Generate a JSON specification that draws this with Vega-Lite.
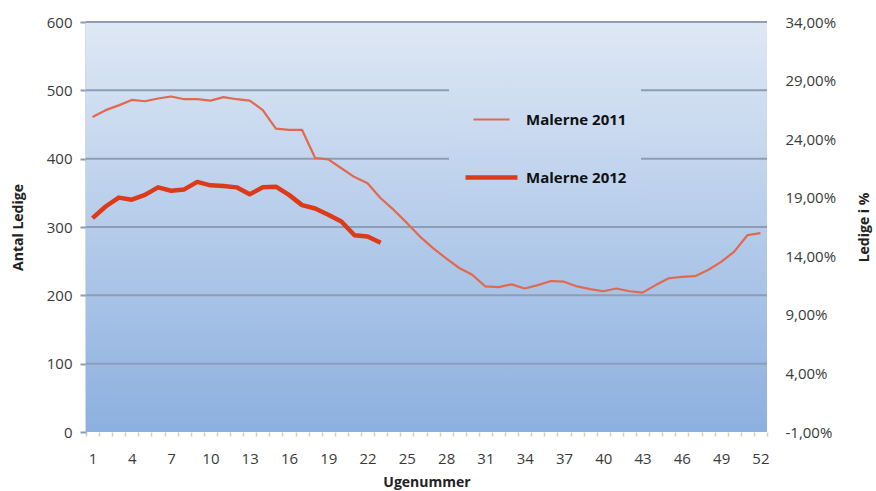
{
  "$schema": "https://vega.github.io/schema/vega-lite/v6.json",
  "width": 681,
  "height": 410,
  "autosize": {"type": "none"},
  "padding": {"left": 86, "top": 22, "right": 109, "bottom": 59},
  "background": "white",
  "config": {
    "view": {"stroke": null},
    "font": "Open Sans",
    "axis": {"labelFont": "Open Sans", "titleFont": "Open Sans", "labelColor": "#3a3a3a", "titleColor": "#222222"}
  },
  "datasets": {
    "weeks": [
      {"week": 1, "series": "Malerne 2011", "value": 461},
      {"week": 2, "series": "Malerne 2011", "value": 471},
      {"week": 3, "series": "Malerne 2011", "value": 478},
      {"week": 4, "series": "Malerne 2011", "value": 486},
      {"week": 5, "series": "Malerne 2011", "value": 484},
      {"week": 6, "series": "Malerne 2011", "value": 488},
      {"week": 7, "series": "Malerne 2011", "value": 491},
      {"week": 8, "series": "Malerne 2011", "value": 487},
      {"week": 9, "series": "Malerne 2011", "value": 487},
      {"week": 10, "series": "Malerne 2011", "value": 485},
      {"week": 11, "series": "Malerne 2011", "value": 490},
      {"week": 12, "series": "Malerne 2011", "value": 487},
      {"week": 13, "series": "Malerne 2011", "value": 485},
      {"week": 14, "series": "Malerne 2011", "value": 471},
      {"week": 15, "series": "Malerne 2011", "value": 444},
      {"week": 16, "series": "Malerne 2011", "value": 442},
      {"week": 17, "series": "Malerne 2011", "value": 442},
      {"week": 18, "series": "Malerne 2011", "value": 401},
      {"week": 19, "series": "Malerne 2011", "value": 399},
      {"week": 20, "series": "Malerne 2011", "value": 386},
      {"week": 21, "series": "Malerne 2011", "value": 373},
      {"week": 22, "series": "Malerne 2011", "value": 364},
      {"week": 23, "series": "Malerne 2011", "value": 342},
      {"week": 24, "series": "Malerne 2011", "value": 325},
      {"week": 25, "series": "Malerne 2011", "value": 306},
      {"week": 26, "series": "Malerne 2011", "value": 286},
      {"week": 27, "series": "Malerne 2011", "value": 269},
      {"week": 28, "series": "Malerne 2011", "value": 254},
      {"week": 29, "series": "Malerne 2011", "value": 240},
      {"week": 30, "series": "Malerne 2011", "value": 230},
      {"week": 31, "series": "Malerne 2011", "value": 213},
      {"week": 32, "series": "Malerne 2011", "value": 212},
      {"week": 33, "series": "Malerne 2011", "value": 216},
      {"week": 34, "series": "Malerne 2011", "value": 210},
      {"week": 35, "series": "Malerne 2011", "value": 215},
      {"week": 36, "series": "Malerne 2011", "value": 221},
      {"week": 37, "series": "Malerne 2011", "value": 220},
      {"week": 38, "series": "Malerne 2011", "value": 213},
      {"week": 39, "series": "Malerne 2011", "value": 209},
      {"week": 40, "series": "Malerne 2011", "value": 206},
      {"week": 41, "series": "Malerne 2011", "value": 210},
      {"week": 42, "series": "Malerne 2011", "value": 206},
      {"week": 43, "series": "Malerne 2011", "value": 204},
      {"week": 44, "series": "Malerne 2011", "value": 215},
      {"week": 45, "series": "Malerne 2011", "value": 225},
      {"week": 46, "series": "Malerne 2011", "value": 227},
      {"week": 47, "series": "Malerne 2011", "value": 228},
      {"week": 48, "series": "Malerne 2011", "value": 237},
      {"week": 49, "series": "Malerne 2011", "value": 249},
      {"week": 50, "series": "Malerne 2011", "value": 264},
      {"week": 51, "series": "Malerne 2011", "value": 288},
      {"week": 52, "series": "Malerne 2011", "value": 291},
      {"week": 1, "series": "Malerne 2012", "value": 313},
      {"week": 2, "series": "Malerne 2012", "value": 330},
      {"week": 3, "series": "Malerne 2012", "value": 343},
      {"week": 4, "series": "Malerne 2012", "value": 340},
      {"week": 5, "series": "Malerne 2012", "value": 347},
      {"week": 6, "series": "Malerne 2012", "value": 358},
      {"week": 7, "series": "Malerne 2012", "value": 353},
      {"week": 8, "series": "Malerne 2012", "value": 355},
      {"week": 9, "series": "Malerne 2012", "value": 366},
      {"week": 10, "series": "Malerne 2012", "value": 361},
      {"week": 11, "series": "Malerne 2012", "value": 360},
      {"week": 12, "series": "Malerne 2012", "value": 358},
      {"week": 13, "series": "Malerne 2012", "value": 348},
      {"week": 14, "series": "Malerne 2012", "value": 358},
      {"week": 15, "series": "Malerne 2012", "value": 359},
      {"week": 16, "series": "Malerne 2012", "value": 347},
      {"week": 17, "series": "Malerne 2012", "value": 332},
      {"week": 18, "series": "Malerne 2012", "value": 327},
      {"week": 19, "series": "Malerne 2012", "value": 318},
      {"week": 20, "series": "Malerne 2012", "value": 308},
      {"week": 21, "series": "Malerne 2012", "value": 288},
      {"week": 22, "series": "Malerne 2012", "value": 286},
      {"week": 23, "series": "Malerne 2012", "value": 277}
    ],
    "bg": [{"lo": 0, "hi": 600}],
    "grid": [{"g": 100}, {"g": 200}, {"g": 300}, {"g": 400}, {"g": 500}, {"g": 600}],
    "pct": [{"p": -1}, {"p": 34}]
  },
  "layer": [
    {
      "layer": [
        {
          "data": {"name": "bg"},
          "mark": {"type": "rect", "color": {"gradient": "linear", "x1": 0, "y1": 0, "x2": 0, "y2": 1, "stops": [{"offset": 0, "color": "#dfe8f5"}, {"offset": 1, "color": "#8cb0df"}]}},
          "encoding": {
            "y": {"field": "lo", "type": "quantitative", "scale": {"domain": [0, 600], "nice": false},
              "axis": {"values": [0, 100, 200, 300, 400, 500, 600], "grid": false, "title": "Antal Ledige", "titleFontSize": 14, "titleFontWeight": "bold", "titlePadding": 21, "labelFontSize": 15, "labelPadding": 8, "tickSize": 6, "tickColor": "#8e9db5", "tickWidth": 2, "domainColor": "#a9b6c8", "domainWidth": 2}},
            "y2": {"field": "hi"}
          }
        },
        {
          "data": {"name": "grid"},
          "mark": {"type": "rule", "color": "#8e9db5", "strokeWidth": 2},
          "encoding": {"y": {"field": "g", "type": "quantitative"}}
        },
        {
          "data": {"name": "weeks"},
          "mark": {"type": "line", "strokeJoin": "round"},
          "encoding": {
            "x": {"field": "week", "type": "ordinal", "scale": {"type": "band", "paddingInner": 0, "paddingOuter": 0},
              "axis": {"title": "Ugenummer", "titleFontSize": 14, "titleFontWeight": "bold", "titlePadding": 9, "labelAngle": 0, "labelFontSize": 15, "labelPadding": 15, "tickBand": "extent", "tickSize": 4, "tickColor": "#d8cdbd", "tickWidth": 1.5, "domain": false, "labelExpr": "(datum.value - 1) % 3 == 0 ? datum.label : ''"}},
            "y": {"field": "value", "type": "quantitative"},
            "color": {"field": "series", "type": "nominal", "scale": {"domain": ["Malerne 2011", "Malerne 2012"], "range": ["#e2694d", "#dc3a18"]},
              "legend": {"title": null, "orient": "none", "legendX": 363, "legendY": 56, "padding": 14, "fillColor": "#c8d8ee", "symbolType": "stroke", "symbolSize": 2700, "symbolStrokeWidth": 3, "labelFontSize": 15, "labelFontWeight": "bold", "labelColor": "#111111", "labelFont": "Open Sans", "labelOffset": 6, "rowPadding": 21, "zindex": 2,
                "encode": {
                  "legend": {"update": {"fill": {"value": {"gradient": "linear", "x1": 0, "y1": 0, "x2": 0, "y2": 1, "stops": [{"offset": 0, "color": "#d3e0f2"}, {"offset": 1, "color": "#bbd0ec"}]}}}},
                  "symbols": {"update": {"strokeWidth": {"signal": "datum.value === 'Malerne 2011' ? 2.5 : 5"}, "size": {"signal": "datum.value === 'Malerne 2011' ? 1300 : 2700"}}}}}},
            "strokeWidth": {"field": "series", "type": "nominal", "scale": {"domain": ["Malerne 2011", "Malerne 2012"], "range": [2.2, 4.5]}, "legend": null}
          }
        }
      ]
    },
    {
      "data": {"name": "pct"},
      "mark": {"type": "point", "opacity": 0},
      "encoding": {
        "y": {"field": "p", "type": "quantitative", "scale": {"domain": [-1, 34], "nice": false, "zero": false},
          "axis": {"orient": "right", "values": [-1, 4, 9, 14, 19, 24, 29, 34], "grid": false, "ticks": false, "domain": false, "labelFontSize": 15, "labelPadding": 18, "labelExpr": "replace(replace(format(datum.value, '.2f'), '.', ','), '\u2212', '-') + '%'", "title": "Ledige i %", "titleAngle": 270, "titleFontSize": 14, "titleFontWeight": "bold", "titlePadding": 36}}
      }
    }
  ],
  "resolve": {"scale": {"y": "independent"}}
}
